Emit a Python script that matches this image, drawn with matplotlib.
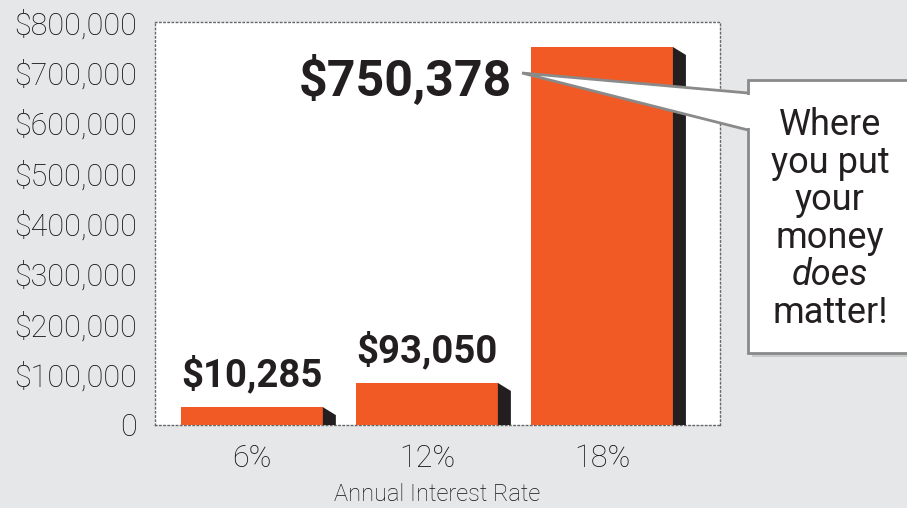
import matplotlib.pyplot as plt
from matplotlib.patches import Polygon, Rectangle

# data
rates = ['6%', '12%', '18%']
bar_heights = [35500, 83500, 750378]   # drawn heights of the bars
value_labels = ['$10,285', '$93,050', '$750,378']
yticks = [0, 100000, 200000, 300000, 400000, 500000, 600000, 700000, 800000]
ytick_labels = ['0', '$100,000', '$200,000', '$300,000', '$400,000',
                '$500,000', '$600,000', '$700,000', '$800,000']
callout_lines = ['Where', 'you put', 'your', 'money', 'does', 'matter!']

bg = '#e6e7e8'
orange = '#f15a24'
side = '#231f20'
txt = '#231f20'
plt.rcParams['font.family'] = ['Roboto', 'DejaVu Sans']

W, H = 907, 508
fig = plt.figure(figsize=(W / 100, H / 100), dpi=100, facecolor=bg)
ax = fig.add_axes([155 / W, 83 / H, 565 / W, 403 / H])
ax.set_facecolor('white')

x = list(range(len(rates)))
width = 0.81
ax.bar(x, bar_heights, width=width, color=orange, zorder=3)

# dark side faces to fake the 3D look
dx = 13 / 175.0
dy = 8 / 50.4 * 100000
for xi, h in zip(x, bar_heights):
    xr = xi + width / 2
    ax.add_patch(Polygon([(xr, 0), (xr, h), (xr + dx, h - dy), (xr + dx, 0)],
                         closed=True, color=side, zorder=3, lw=0))

ax.set_xlim(-0.554, 2.674)
ax.set_ylim(0, 800000)
ax.set_xticks(x)
ax.set_xticklabels(rates)
ax.set_yticks(yticks)
ax.set_yticklabels(ytick_labels)
ax.tick_params(length=0, labelsize=22, labelcolor='#111111')
ax.tick_params(axis='y', pad=13)
ax.tick_params(axis='x', pad=14)
for lab in ax.get_xticklabels() + ax.get_yticklabels():
    lab.set_fontweight('light')
for s in ax.spines.values():
    s.set_linestyle((0, (1, 2)))
    s.set_color('#666666')
    s.set_linewidth(1)
ax.set_xlabel('Annual Interest Rate', fontsize=17, color='#111111', labelpad=7,
              fontweight='light')

# value labels
for i in range(2):
    ax.annotate(value_labels[i], (x[i], bar_heights[i]), xytext=(0, 15),
                textcoords='offset points', ha='center', va='baseline',
                fontsize=27.5, fontweight='bold', color=txt, zorder=5)
ax.annotate(value_labels[2], (x[2] - width / 2, bar_heights[2]), xytext=(-14, -35),
            textcoords='offset points', ha='right', va='baseline',
            fontsize=36, fontweight='bold', color=txt, zorder=5)

# callout wedge + box
tip = (522 / W, 1 - 73 / H)
b1 = (748 / W, 1 - 93 / H)
b2 = (748 / W, 1 - 130 / H)
bx0, by0, bx1, by1 = 748 / W, 1 - 353 / H, 1.01, 1 - 80 / H
fig.add_artist(Rectangle((bx0 + 0.004, by0 - 0.008), bx1 - bx0, by1 - by0,
                         transform=fig.transFigure, color='#b5b5b5', alpha=0.6,
                         lw=0, zorder=8))
wedge = Polygon([b1, tip, b2], closed=False, transform=fig.transFigure,
                facecolor='white', edgecolor='#8a8a8a', lw=2, zorder=9)
fig.add_artist(wedge)
fig.add_artist(Rectangle((bx0, by0), bx1 - bx0, by1 - by0, transform=fig.transFigure,
                         facecolor='white', edgecolor='#8a8a8a', lw=2, zorder=10))
# cover the box edge where the wedge joins it
fig.add_artist(Polygon([(bx0 - 0.001, b1[1] - 0.003), (bx0 + 0.003, b1[1] - 0.003),
                        (bx0 + 0.003, b2[1] + 0.003), (bx0 - 0.001, b2[1] + 0.003)],
                       closed=True, transform=fig.transFigure, color='white',
                       lw=0, zorder=11))

for k, line in enumerate(callout_lines):
    yb = 1 - (135 + k * 37.6) / H
    fig.text(830 / W, yb, line, ha='center', va='baseline', fontsize=26,
             color=txt, style='italic' if line == 'does' else 'normal', zorder=12)

fig.savefig('out.png', dpi=100, facecolor=bg)
